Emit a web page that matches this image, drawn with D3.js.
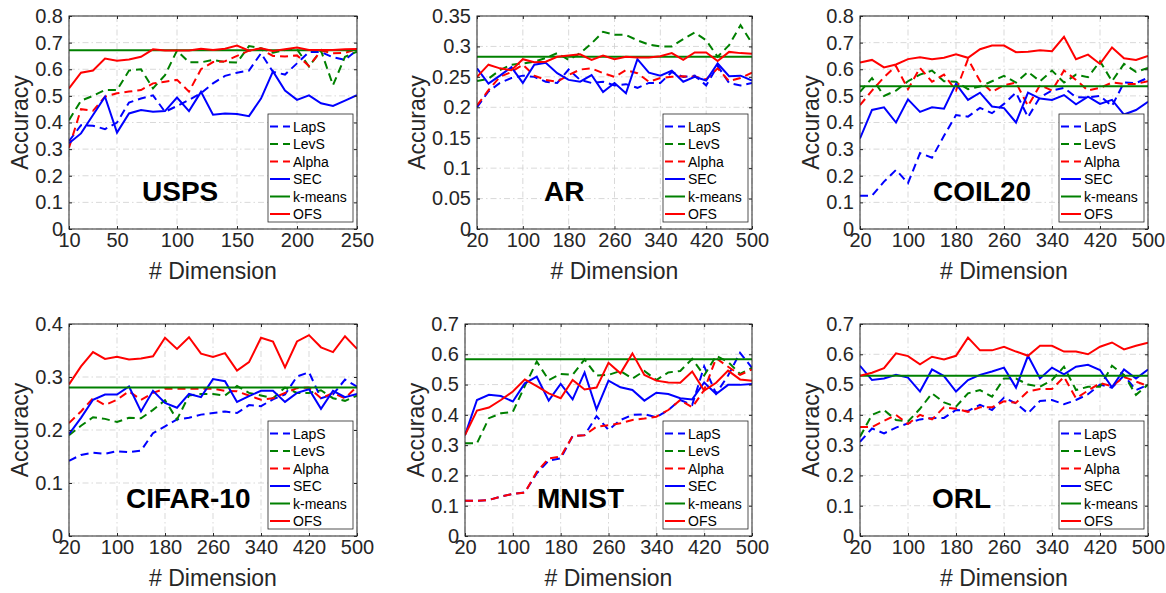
<!DOCTYPE html>
<html>
<head>
<meta charset="utf-8">
<script src="https://cdn.jsdelivr.net/npm/d3@7"></script>
<style>
body { margin: 0; background: #fff; }
svg { font-family: "Liberation Sans", Arial, Helvetica, sans-serif; }
</style>
</head>
<body>
<svg id="main" width="1166" height="593"></svg>
<script>
// ---- data ----
var dimsUSPS = [10, 20, 30, 40, 50, 60, 70, 80, 90, 100, 110, 120, 130, 140, 150, 160, 170, 180, 190, 200, 210, 220, 230, 240, 250];
var dims500 = [20, 40, 60, 80, 100, 120, 140, 160, 180, 200, 220, 240, 260, 280, 300, 320, 340, 360, 380, 400, 420, 440, 460, 480, 500];

var xTicksUSPS = [10, 50, 100, 150, 200, 250];
var xTicks500 = [20, 100, 180, 260, 340, 420, 500];
var yTicks08 = [0, 0.1, 0.2, 0.3, 0.4, 0.5, 0.6, 0.7, 0.8];
var yTicks07 = [0, 0.1, 0.2, 0.3, 0.4, 0.5, 0.6, 0.7];
var yTicks04 = [0, 0.1, 0.2, 0.3, 0.4];
var yTicks035 = [0, 0.05, 0.1, 0.15, 0.2, 0.25, 0.3, 0.35];

var methods = ["LapS", "LevS", "Alpha", "SEC", "k-means", "OFS"];

var uspsLapS = [0.330, 0.390, 0.388, 0.375, 0.400, 0.475, 0.490, 0.502, 0.440, 0.462, 0.485, 0.510, 0.547, 0.575, 0.587, 0.595, 0.660, 0.590, 0.580, 0.622, 0.665, 0.665, 0.645, 0.635, 0.672];
var uspsLevS = [0.409, 0.482, 0.500, 0.522, 0.522, 0.595, 0.600, 0.528, 0.578, 0.670, 0.626, 0.626, 0.635, 0.627, 0.625, 0.687, 0.679, 0.662, 0.672, 0.675, 0.610, 0.670, 0.540, 0.647, 0.666];
var uspsAlpha = [0.305, 0.450, 0.444, 0.497, 0.510, 0.516, 0.522, 0.547, 0.553, 0.560, 0.516, 0.600, 0.627, 0.630, 0.650, 0.670, 0.675, 0.650, 0.648, 0.652, 0.612, 0.670, 0.660, 0.662, 0.676];
var uspsSEC = [0.322, 0.359, 0.428, 0.497, 0.362, 0.434, 0.447, 0.440, 0.443, 0.494, 0.443, 0.515, 0.429, 0.434, 0.432, 0.424, 0.490, 0.592, 0.520, 0.485, 0.502, 0.472, 0.462, 0.482, 0.503];
var uspsOFS = [0.528, 0.587, 0.595, 0.640, 0.632, 0.637, 0.647, 0.675, 0.670, 0.670, 0.670, 0.677, 0.672, 0.677, 0.689, 0.670, 0.679, 0.669, 0.675, 0.682, 0.672, 0.672, 0.672, 0.675, 0.676];
var uspsKmeans = 0.671;

var arLapS = [0.200, 0.226, 0.240, 0.248, 0.252, 0.250, 0.242, 0.240, 0.262, 0.245, 0.240, 0.242, 0.236, 0.238, 0.232, 0.240, 0.240, 0.258, 0.250, 0.252, 0.236, 0.268, 0.240, 0.236, 0.240];
var arLevS = [0.243, 0.247, 0.261, 0.270, 0.272, 0.275, 0.281, 0.289, 0.278, 0.289, 0.305, 0.324, 0.319, 0.319, 0.310, 0.303, 0.300, 0.300, 0.312, 0.323, 0.310, 0.283, 0.302, 0.335, 0.305];
var arAlpha = [0.203, 0.228, 0.250, 0.258, 0.270, 0.252, 0.245, 0.242, 0.253, 0.262, 0.264, 0.256, 0.250, 0.261, 0.256, 0.242, 0.248, 0.250, 0.251, 0.250, 0.246, 0.264, 0.243, 0.248, 0.257];
var arSEC = [0.264, 0.239, 0.252, 0.266, 0.240, 0.270, 0.273, 0.256, 0.245, 0.242, 0.253, 0.225, 0.240, 0.223, 0.279, 0.257, 0.252, 0.260, 0.242, 0.250, 0.244, 0.272, 0.251, 0.252, 0.244];
var arOFS = [0.250, 0.270, 0.264, 0.261, 0.279, 0.274, 0.275, 0.283, 0.285, 0.287, 0.278, 0.285, 0.279, 0.283, 0.282, 0.282, 0.284, 0.289, 0.278, 0.290, 0.290, 0.276, 0.291, 0.289, 0.288];
var arKmeans = 0.283;

var coilLapS = [0.125, 0.125, 0.178, 0.222, 0.172, 0.285, 0.268, 0.350, 0.428, 0.422, 0.455, 0.435, 0.470, 0.512, 0.420, 0.495, 0.520, 0.530, 0.495, 0.494, 0.500, 0.462, 0.550, 0.548, 0.568];
var coilLevS = [0.515, 0.567, 0.500, 0.520, 0.555, 0.580, 0.595, 0.555, 0.553, 0.525, 0.535, 0.555, 0.575, 0.550, 0.590, 0.555, 0.595, 0.550, 0.580, 0.570, 0.630, 0.555, 0.620, 0.590, 0.605];
var coilAlpha = [0.465, 0.520, 0.570, 0.612, 0.525, 0.605, 0.553, 0.580, 0.520, 0.638, 0.556, 0.515, 0.540, 0.550, 0.462, 0.540, 0.520, 0.595, 0.560, 0.520, 0.530, 0.550, 0.545, 0.545, 0.555];
var coilSEC = [0.340, 0.447, 0.457, 0.400, 0.487, 0.440, 0.457, 0.452, 0.545, 0.485, 0.512, 0.460, 0.454, 0.400, 0.512, 0.490, 0.485, 0.503, 0.468, 0.497, 0.470, 0.485, 0.430, 0.447, 0.478];
var coilOFS = [0.625, 0.635, 0.607, 0.618, 0.638, 0.645, 0.638, 0.643, 0.656, 0.643, 0.675, 0.689, 0.689, 0.664, 0.666, 0.671, 0.668, 0.722, 0.638, 0.655, 0.620, 0.682, 0.641, 0.635, 0.650];
var coilKmeans = 0.536;

var cifarLapS = [0.142, 0.153, 0.157, 0.155, 0.160, 0.158, 0.161, 0.194, 0.207, 0.220, 0.223, 0.229, 0.232, 0.235, 0.232, 0.247, 0.245, 0.258, 0.267, 0.301, 0.309, 0.260, 0.267, 0.295, 0.282];
var cifarLevS = [0.190, 0.208, 0.224, 0.221, 0.215, 0.223, 0.222, 0.238, 0.256, 0.220, 0.265, 0.268, 0.268, 0.265, 0.283, 0.270, 0.265, 0.260, 0.280, 0.270, 0.270, 0.275, 0.260, 0.255, 0.265];
var cifarAlpha = [0.213, 0.235, 0.260, 0.247, 0.257, 0.273, 0.257, 0.270, 0.278, 0.278, 0.278, 0.278, 0.278, 0.274, 0.273, 0.265, 0.257, 0.260, 0.270, 0.279, 0.280, 0.260, 0.270, 0.260, 0.282];
var cifarSEC = [0.192, 0.223, 0.257, 0.267, 0.267, 0.282, 0.235, 0.274, 0.251, 0.242, 0.268, 0.262, 0.296, 0.292, 0.253, 0.264, 0.274, 0.274, 0.253, 0.270, 0.277, 0.240, 0.274, 0.262, 0.268];
var cifarOFS = [0.286, 0.320, 0.347, 0.334, 0.338, 0.333, 0.335, 0.339, 0.374, 0.353, 0.375, 0.344, 0.338, 0.345, 0.312, 0.328, 0.374, 0.367, 0.318, 0.367, 0.379, 0.356, 0.347, 0.377, 0.353];
var cifarKmeans = 0.280;

var mnistLapS = [0.116, 0.116, 0.119, 0.130, 0.139, 0.144, 0.207, 0.249, 0.256, 0.330, 0.333, 0.396, 0.350, 0.383, 0.400, 0.402, 0.392, 0.416, 0.449, 0.433, 0.560, 0.470, 0.530, 0.605, 0.555];
var mnistLevS = [0.306, 0.306, 0.389, 0.405, 0.410, 0.495, 0.576, 0.515, 0.535, 0.532, 0.583, 0.530, 0.532, 0.545, 0.520, 0.545, 0.515, 0.540, 0.545, 0.585, 0.530, 0.595, 0.575, 0.535, 0.555];
var mnistAlpha = [0.116, 0.116, 0.119, 0.130, 0.139, 0.143, 0.212, 0.256, 0.262, 0.330, 0.333, 0.361, 0.366, 0.372, 0.383, 0.388, 0.394, 0.416, 0.449, 0.425, 0.482, 0.587, 0.559, 0.532, 0.550];
var mnistSEC = [0.333, 0.449, 0.466, 0.462, 0.444, 0.504, 0.526, 0.447, 0.502, 0.451, 0.540, 0.418, 0.513, 0.491, 0.482, 0.447, 0.473, 0.469, 0.455, 0.451, 0.507, 0.469, 0.499, 0.499, 0.502];
var mnistOFS = [0.333, 0.414, 0.424, 0.449, 0.477, 0.517, 0.495, 0.471, 0.455, 0.515, 0.484, 0.490, 0.572, 0.537, 0.603, 0.532, 0.513, 0.507, 0.506, 0.543, 0.480, 0.506, 0.546, 0.517, 0.513];
var mnistKmeans = 0.584;

var orlLapS = [0.311, 0.355, 0.339, 0.358, 0.372, 0.385, 0.389, 0.390, 0.416, 0.413, 0.433, 0.416, 0.457, 0.438, 0.405, 0.446, 0.449, 0.435, 0.449, 0.468, 0.500, 0.490, 0.530, 0.482, 0.499];
var orlLevS = [0.328, 0.400, 0.416, 0.383, 0.378, 0.420, 0.471, 0.441, 0.427, 0.471, 0.482, 0.460, 0.520, 0.520, 0.500, 0.493, 0.515, 0.559, 0.482, 0.493, 0.493, 0.562, 0.532, 0.466, 0.500];
var orlAlpha = [0.360, 0.360, 0.380, 0.400, 0.370, 0.400, 0.385, 0.425, 0.420, 0.410, 0.425, 0.425, 0.445, 0.440, 0.478, 0.485, 0.485, 0.525, 0.455, 0.480, 0.505, 0.495, 0.525, 0.510, 0.495];
var orlSEC = [0.562, 0.515, 0.520, 0.532, 0.523, 0.477, 0.550, 0.528, 0.477, 0.515, 0.532, 0.543, 0.556, 0.490, 0.595, 0.520, 0.556, 0.534, 0.559, 0.565, 0.548, 0.491, 0.550, 0.520, 0.550];
var orlOFS = [0.529, 0.539, 0.554, 0.603, 0.594, 0.567, 0.592, 0.583, 0.595, 0.655, 0.613, 0.613, 0.625, 0.609, 0.595, 0.628, 0.628, 0.609, 0.609, 0.600, 0.625, 0.639, 0.616, 0.628, 0.638];
var orlKmeans = 0.529;

window.onload = function() {
var svg = d3.select("#main");

// line styles, same order as methods
var colors = ["#0000ff", "#008000", "#ff0000", "#0000ff", "#008000", "#ff0000"];
var dashed = [true, true, true, false, false, false];
var axisColor = "#262626";

var panels = [
	{name: "USPS", left: 69, top: 16, w: 288, h: 213, dims: dimsUSPS, xTicks: xTicksUSPS, yTicks: yTicks08, yMax: 0.8,
	 series: [uspsLapS, uspsLevS, uspsAlpha, uspsSEC, null, uspsOFS], kmeans: uspsKmeans, titleX: 73},
	{name: "AR", left: 477, top: 16, w: 275, h: 213, dims: dims500, xTicks: xTicks500, yTicks: yTicks035, yMax: 0.35,
	 series: [arLapS, arLevS, arAlpha, arSEC, null, arOFS], kmeans: arKmeans, titleX: 67},
	{name: "COIL20", left: 860, top: 16, w: 288, h: 213, dims: dims500, xTicks: xTicks500, yTicks: yTicks08, yMax: 0.8,
	 series: [coilLapS, coilLevS, coilAlpha, coilSEC, null, coilOFS], kmeans: coilKmeans, titleX: 73},
	{name: "CIFAR-10", left: 69, top: 324, w: 288, h: 212, dims: dims500, xTicks: xTicks500, yTicks: yTicks04, yMax: 0.4,
	 series: [cifarLapS, cifarLevS, cifarAlpha, cifarSEC, null, cifarOFS], kmeans: cifarKmeans, titleX: 57},
	{name: "MNIST", left: 465, top: 324, w: 287, h: 212, dims: dims500, xTicks: xTicks500, yTicks: yTicks07, yMax: 0.7,
	 series: [mnistLapS, mnistLevS, mnistAlpha, mnistSEC, null, mnistOFS], kmeans: mnistKmeans, titleX: 72},
	{name: "ORL", left: 860, top: 324, w: 288, h: 212, dims: dims500, xTicks: xTicks500, yTicks: yTicks07, yMax: 0.7,
	 series: [orlLapS, orlLevS, orlAlpha, orlSEC, null, orlOFS], kmeans: orlKmeans, titleX: 72}
];

var fmt = function(d) { return String(+d.toFixed(2)); };

var buildPanel = function(p, idx) {
	var g = svg.append("g").attr("transform", "translate(" + p.left + "," + p.top + ")");
	var x = d3.scaleLinear().domain([p.dims[0], p.dims[p.dims.length - 1]]).range([0, p.w]);
	var y = d3.scaleLinear().domain([0, p.yMax]).range([p.h, 0]);

	// grid
	g.append("g").selectAll("line.gx").data(p.xTicks).enter().append("line")
		.attr("x1", function(d){ return x(d); }).attr("x2", function(d){ return x(d); })
		.attr("y1", 0).attr("y2", p.h)
		.attr("stroke", "#cfcfcf").attr("stroke-width", 0.8).attr("stroke-dasharray", "6,3,1.5,3");
	g.append("g").selectAll("line.gy").data(p.yTicks).enter().append("line")
		.attr("x1", 0).attr("x2", p.w)
		.attr("y1", function(d){ return y(d); }).attr("y2", function(d){ return y(d); })
		.attr("stroke", "#cfcfcf").attr("stroke-width", 0.8).attr("stroke-dasharray", "6,3,1.5,3");

	// lines
	var clipId = "clip" + idx;
	g.append("clipPath").attr("id", clipId).append("rect").attr("width", p.w).attr("height", p.h);
	var plot = g.append("g").attr("clip-path", "url(#" + clipId + ")");
	var line = d3.line().x(function(d){ return x(d[0]); }).y(function(d){ return y(d[1]); });

	methods.forEach(function(m, i) {
		var pts;
		if (m == "k-means") pts = [[p.dims[0], p.kmeans], [p.dims[p.dims.length - 1], p.kmeans]];
		else pts = p.dims.map(function(d, j){ return [d, p.series[i][j]]; });
		plot.append("path")
			.attr("d", line(pts))
			.attr("fill", "none")
			.attr("stroke", colors[i])
			.attr("stroke-width", 2)
			.attr("stroke-dasharray", dashed[i] ? "8,5" : null);
	});

	// axes (ticks inside, box)
	var xAxis = d3.axisBottom(x).tickValues(p.xTicks).tickSizeInner(-3).tickSizeOuter(0).tickPadding(4);
	var yAxis = d3.axisLeft(y).tickValues(p.yTicks).tickFormat(fmt).tickSizeInner(-3).tickSizeOuter(0).tickPadding(6);
	var xa = g.append("g").attr("transform", "translate(0," + p.h + ")").call(xAxis);
	var ya = g.append("g").call(yAxis);
	g.append("g").call(d3.axisTop(x).tickValues(p.xTicks).tickSizeInner(-3).tickSizeOuter(0).tickFormat(""));
	g.append("g").attr("transform", "translate(" + p.w + ",0)")
		.call(d3.axisRight(y).tickValues(p.yTicks).tickSizeInner(-3).tickSizeOuter(0).tickFormat(""));
	g.selectAll(".domain").remove();
	g.selectAll(".tick line").attr("stroke", axisColor);
	[xa, ya].forEach(function(a){
		a.selectAll("text").attr("fill", axisColor).style("font-size", "20px");
	});
	g.append("rect").attr("width", p.w).attr("height", p.h)
		.attr("fill", "none").attr("stroke", axisColor).attr("stroke-width", 1);

	// axis labels
	var maxW = 0;
	ya.selectAll("text").each(function(){ maxW = Math.max(maxW, this.getComputedTextLength()); });
	g.append("text")
		.attr("transform", "translate(" + (-maxW - 21) + "," + (p.h / 2) + ") rotate(-90)")
		.attr("text-anchor", "middle").attr("dy", "0.35em")
		.attr("fill", axisColor).style("font-size", "23px")
		.text("Accuracy");
	g.append("text")
		.attr("x", p.w / 2).attr("y", p.h + 50)
		.attr("text-anchor", "middle")
		.attr("fill", axisColor).style("font-size", "23px")
		.text("# Dimension");

	// dataset name
	g.append("text")
		.attr("x", p.titleX).attr("y", p.h - 28.5)
		.style("font-size", "28px").style("font-weight", "bold")
		.attr("fill", "#000")
		.text(p.name);

	// legend
	var lw = 85, lh = 108;
	var lg = g.append("g").attr("transform", "translate(" + (p.w - 4 - lw) + "," + (p.h - 7 - lh) + ")");
	lg.append("rect").attr("width", lw).attr("height", lh)
		.attr("fill", "#fff").attr("stroke", axisColor).attr("stroke-width", 0.8);
	methods.forEach(function(m, i) {
		var ry = 12.5 + i * 17.5;
		lg.append("line").attr("x1", 2).attr("x2", 22).attr("y1", ry).attr("y2", ry)
			.attr("stroke", colors[i]).attr("stroke-width", 2)
			.attr("stroke-dasharray", dashed[i] ? "8,5" : null);
		lg.append("text").attr("x", 25).attr("y", ry).attr("dy", "0.36em")
			.style("font-size", "14px").attr("fill", "#000").text(m);
	});
}

panels.forEach(function(p, i){ buildPanel(p, i); });
}
</script>
</body>
</html>
